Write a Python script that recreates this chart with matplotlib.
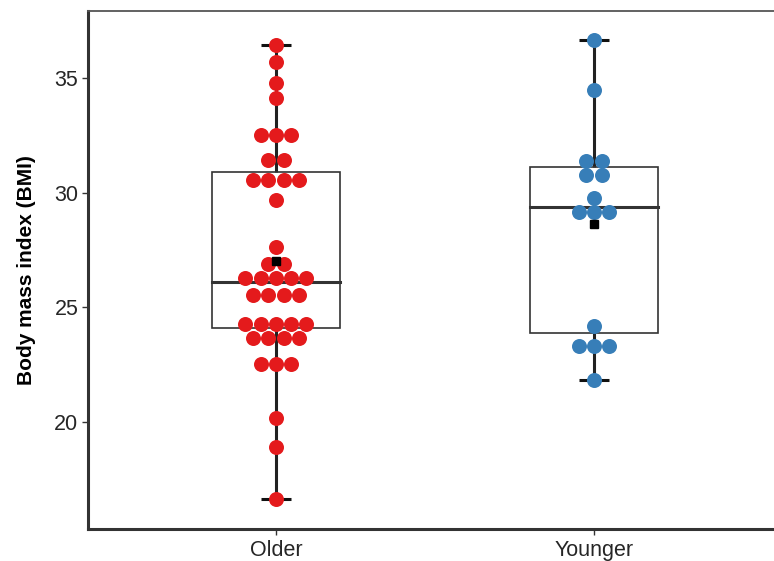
import numpy as np
import matplotlib.pyplot as plt
from collections import Counter

plt.rcParams['font.family'] = ['Liberation Sans', 'DejaVu Sans']

groups = ['Older', 'Younger']
colors = ['#E41A1C', '#377EB8']

# BMI per subject (values binned as in the dot stacks)
older_bmi = [36.45, 35.7, 34.78, 34.13,
             32.5, 32.5, 32.5,
             31.42, 31.42,
             30.55, 30.55, 30.55, 30.55,
             29.68, 27.63,
             26.9, 26.9,
             26.28, 26.28, 26.28, 26.28, 26.28,
             25.54, 25.54, 25.54, 25.54,
             24.27, 24.27, 24.27, 24.27, 24.27,
             23.66, 23.66, 23.66, 23.66,
             22.53, 22.53, 22.53,
             20.17, 18.9, 16.64]
younger_bmi = [36.66, 34.48,
               31.38, 31.38,
               30.77, 30.77,
               29.77,
               29.16, 29.16, 29.16,
               24.2,
               23.3, 23.3, 23.3,
               21.83]

# box summaries: whisker low, Q1, median, Q3, whisker high, mean
older_stats = [16.64, 24.1, 26.1, 30.9, 36.45, 27.02]
younger_stats = [21.83, 23.87, 29.39, 31.12, 36.66, 28.62]

fig = plt.figure(figsize=(7.74, 5.61), dpi=100)
W, H = 774, 561
ax = fig.add_axes([88 / W, (H - 529) / H, 699.6 / W, 518 / H])
ax.set_xlim(0.409, 2.609)
ax.set_ylim(15.33, 37.92)

box_w = 0.40
cap_w = 0.094
dot_step = 0.048

for i, (vals, st, col) in enumerate(zip([older_bmi, younger_bmi],
                                        [older_stats, younger_stats], colors)):
    x = i + 1
    lo, q1, med, q3, hi, mean = st
    # whiskers and caps
    ax.plot([x, x], [lo, q1], color='#222222', lw=2.2, zorder=1, solid_capstyle='butt')
    ax.plot([x, x], [q3, hi], color='#222222', lw=2.2, zorder=1, solid_capstyle='butt')
    for yc in (lo, hi):
        ax.plot([x - cap_w / 2, x + cap_w / 2], [yc, yc], color='#111111', lw=2.2,
                zorder=1, solid_capstyle='butt')
    # box
    ax.add_patch(plt.Rectangle((x - box_w / 2, q1), box_w, q3 - q1, fill=False,
                               edgecolor='#333333', lw=1.2, zorder=2))
    ax.plot([x - box_w / 2, x + box_w / 2], [med, med], color='#333333', lw=2.2, zorder=2)
    # centred dot stacks
    counts = Counter(vals)
    for v, n in counts.items():
        offs = (np.arange(n) - (n - 1) / 2) * dot_step
        ax.plot(x + offs, [v] * n, 'o', ms=10.8, color=col, mec='none', zorder=3)
    ax.plot([x], [mean], 's', ms=5.5, color='black', zorder=4)

ax.set_xticks([1, 2])
ax.set_xticklabels(groups)
ax.set_yticks([20, 25, 30, 35])
ax.set_ylabel('Body mass index (BMI)', fontsize=15, fontweight='bold', labelpad=13)
ax.tick_params(axis='both', labelsize=15.5, color='#333333', length=4, width=1,
               labelcolor='#262626')
ax.tick_params(axis='x', pad=4)
ax.tick_params(axis='y', pad=3)

for s in ('left', 'bottom'):
    ax.spines[s].set_linewidth(2.2)
    ax.spines[s].set_color('#333333')
ax.spines['top'].set_linewidth(1.3)
ax.spines['top'].set_color('#555555')
ax.spines['right'].set_visible(False)

fig.savefig('out.png', dpi=100)
